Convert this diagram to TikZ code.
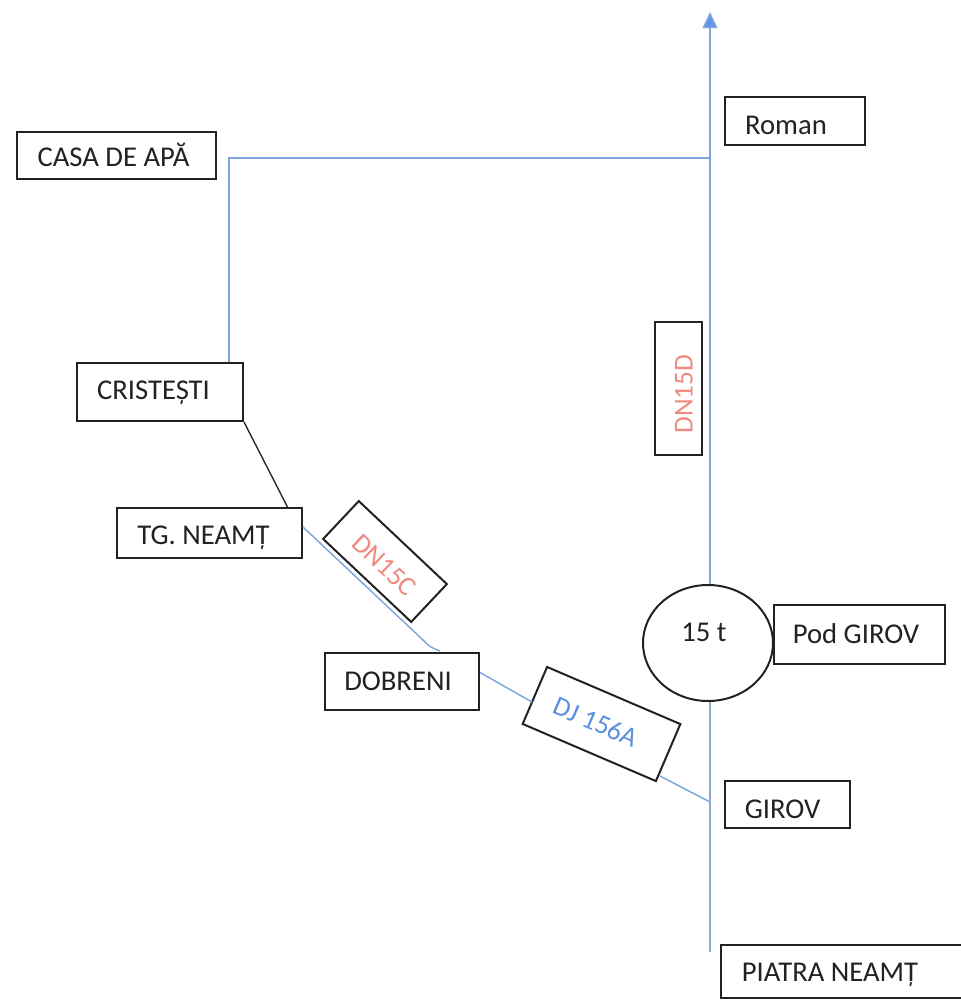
\documentclass[tikz,border=0pt]{standalone}
\usepackage{fontspec}
\setmainfont{Carlito}
\usetikzlibrary{arrows.meta,shapes.geometric}
\definecolor{road}{HTML}{7FA6DC}
\definecolor{roadgrey}{HTML}{8FA9CC}
\definecolor{arrowblue}{HTML}{5E96EA}
\definecolor{edge}{HTML}{222222}
\definecolor{lbl}{HTML}{222222}
\definecolor{redlbl}{HTML}{F08A80}
\definecolor{bluelbl}{HTML}{5B8FE0}
\tikzset{
  placebox/.style={draw=edge,line width=1.5pt,fill=white,inner sep=0pt},
  boxtext/.style={inner sep=0pt,text=lbl,font=\fontsize{21.5}{24}\selectfont},
  tagtext/.style={inner sep=0pt,font=\fontsize{20.5}{24}\selectfont},
  road line/.style={draw=road,line width=1.1pt},
  link line/.style={draw=edge,line width=1pt},
}
\begin{document}
\begin{tikzpicture}[x=0.75pt,y=-0.75pt]
\useasboundingbox (0,0) rectangle (961,1001);
\clip (0,0) rectangle (961,1001);
\coordinate (top) at (710,12);
\coordinate (bottom) at (710,952);
\coordinate (junction) at (710,158);
\coordinate (corner) at (229,158);
\coordinate (girovjoin) at (710,802);
\coordinate (bend) at (423,640);
\coordinate (bendctrl) at (430,647);
\coordinate (dobtop) at (440,651);
\coordinate (djin) at (532,702);
\coordinate (djout) at (660,776);
\coordinate (tgtop) at (288,508);
% boxes
\node[placebox,minimum width=199*0.75pt,minimum height=47*0.75pt] (casa) at (116.5,155.5) {};
\node[placebox,minimum width=140*0.75pt,minimum height=48*0.75pt] (roman) at (795,121) {};
\node[placebox,minimum width=166*0.75pt,minimum height=58*0.75pt] (cristesti) at (160,392) {};
\node[placebox,minimum width=185*0.75pt,minimum height=50*0.75pt] (tg) at (209.5,533) {};
\node[placebox,minimum width=154*0.75pt,minimum height=57*0.75pt] (dobreni) at (402,681.5) {};
\node[placebox,minimum width=171*0.75pt,minimum height=59*0.75pt] (pod) at (859.5,634.5) {};
\node[placebox,minimum width=125*0.75pt,minimum height=47*0.75pt] (girov) at (787.5,804.5) {};
\node[placebox,minimum width=250*0.75pt,minimum height=53*0.75pt] (piatra) at (846,971.5) {};
\node[placebox,ellipse,minimum width=130*0.75pt,minimum height=116*0.75pt] (circle) at (708,643) {};
\node[placebox,minimum width=47*0.75pt,minimum height=133*0.75pt] (dnd) at (678.5,388.5) {};
\node[placebox,rotate=-43.3,minimum width=121*0.75pt,minimum height=52*0.75pt] (dnc) at (385,561.5) {};
\node[placebox,rotate=-23.2,minimum width=145*0.75pt,minimum height=62*0.75pt] (dj) at (601.5,724) {};
% texts
\node[boxtext] (casat) at (113.5,155) {CASA DE APĂ};
\node[boxtext] (romant) at (786,125) {Roman};
\node[boxtext] (cristestit) at (153.5,393) {CRISTEȘTI};
\node[boxtext] (tgt) at (203.5,538) {TG. NEAMȚ};
\node[boxtext] (dobrenit) at (398,681) {DOBRENI};
\node[boxtext] (podt) at (856,634) {Pod GIROV};
\node[boxtext] (girovt) at (782.5,809) {GIROV};
\node[boxtext] (piatrat) at (830,975) {PIATRA NEAMȚ};
\node[boxtext] (circlet) at (704,632) {15 t};
\node[tagtext,text=redlbl,rotate=90] (dndt) at (684,394) {DN15D};
\node[tagtext,text=redlbl,rotate=-43.3] (dnct) at (384,565) {DN15C};
\node[tagtext,text=bluelbl,rotate=-23.2] (djt) at (596,722) {DJ 156A};
% connectors
\draw[road line,-{Triangle[width=11pt,length=12pt,fill=arrowblue]}] (circle.north -| top) -- (top);
\draw[road line,draw=roadgrey] (circle.south -| top) -- (bottom);
\draw[road line] (junction) -- (corner) -- (corner |- cristesti.north);
\draw[link line] (cristesti.south east) -- (tgtop);
\draw[road line] (tg.east) ++(0,-6) -- (bend) .. controls (bendctrl) .. (dobtop);
\draw[road line] (dobreni.east) ++(0,-9) -- (djin);
\draw[road line] (djout) -- (girovjoin);
\end{tikzpicture}
\end{document}
